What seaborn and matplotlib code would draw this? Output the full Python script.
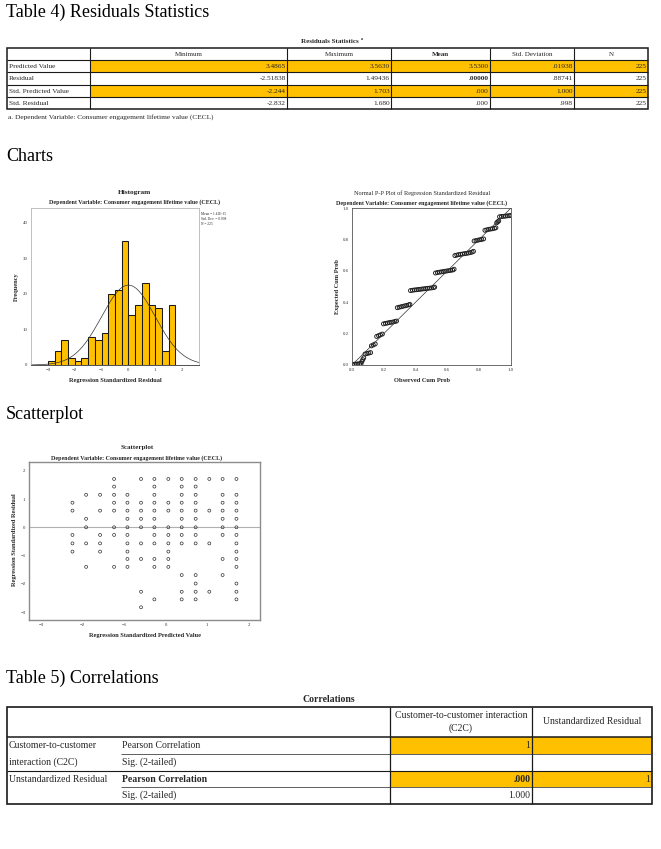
import numpy as np
import pandas as pd
import matplotlib
matplotlib.use("Agg")
import matplotlib.pyplot as plt
import seaborn as sns
from matplotlib.patches import Rectangle

# ---- data ---------------------------------------------------------------
stat_rows = ["Predicted Value", "Residual", "Std. Predicted Value", "Std. Residual"]
stat_cols = ["Minimum", "Maximum", "Mean", "Std. Deviation", "N"]
stat_values = [
    ["3.4865", "3.5630", "3.5300", ".01938", "225"],
    ["-2.51838", "1.49436", ".00000", ".88741", "225"],
    ["-2.244", "1.703", ".000", "1.000", "225"],
    ["-2.832", "1.680", ".000", ".998", "225"],
]
stat_highlight = [0, 2]
footnote = "a. Dependent Variable: Consumer engagement lifetime value (CECL)"
dep_var = "Dependent Variable: Consumer engagement lifetime value (CECL)"

# histogram of standardized residuals (bins of .25 starting at -3)
hist_counts = [1, 4, 7, 2, 1, 2, 8, 7, 9, 20, 21, 35, 14, 17, 23, 17, 16, 4, 17]
hist_start = -3.0
hist_width = 0.25
resid_mean = 0.0
resid_sd = 0.998
resid_n = 225

pp_observed = [0.004, 0.015, 0.026, 0.037, 0.048, 0.057, 0.062, 0.068, 0.074,
               0.082, 0.094, 0.106, 0.117, 0.122, 0.134, 0.146,
               0.155, 0.167, 0.179, 0.191,
               0.198, 0.210, 0.222, 0.234, 0.246, 0.258, 0.270, 0.280,
               0.285, 0.297, 0.309, 0.321, 0.333, 0.345, 0.357, 0.364,
               0.368, 0.380, 0.392, 0.404, 0.416, 0.428, 0.440, 0.452, 0.464,
               0.476, 0.488, 0.500, 0.512, 0.520,
               0.525, 0.537, 0.549, 0.561, 0.573, 0.585, 0.597, 0.609, 0.621,
               0.633, 0.642,
               0.647, 0.659, 0.671, 0.683, 0.695, 0.707, 0.719, 0.731, 0.743,
               0.755, 0.764,
               0.768, 0.780, 0.792, 0.804, 0.816, 0.828,
               0.836, 0.848, 0.860, 0.872, 0.884, 0.896, 0.905,
               0.910, 0.917, 0.923,
               0.928, 0.940, 0.952, 0.964, 0.976, 0.988, 0.998]
pp_expected = [0.004, 0.005, 0.006, 0.007, 0.008, 0.009, 0.022, 0.034, 0.046,
               0.070, 0.073, 0.076, 0.079, 0.122, 0.128, 0.134,
               0.182, 0.187, 0.192, 0.197,
               0.262, 0.265, 0.267, 0.270, 0.272, 0.274, 0.277, 0.280,
               0.365, 0.368, 0.371, 0.374, 0.377, 0.380, 0.383, 0.386,
               0.474, 0.476, 0.478, 0.479, 0.481, 0.482, 0.484, 0.485, 0.487,
               0.488, 0.490, 0.491, 0.493, 0.496,
               0.586, 0.589, 0.591, 0.593, 0.595, 0.597, 0.599, 0.601, 0.603,
               0.605, 0.610,
               0.697, 0.700, 0.703, 0.705, 0.707, 0.709, 0.711, 0.713, 0.716,
               0.719, 0.724,
               0.790, 0.792, 0.795, 0.798, 0.800, 0.803,
               0.858, 0.861, 0.864, 0.866, 0.868, 0.871, 0.874,
               0.906, 0.912, 0.918,
               0.944, 0.946, 0.947, 0.948, 0.950, 0.951, 0.953]

# scatterplot: standardized predicted value columns and their residuals
scatter_pred = [-2.244, -1.915, -1.579, -1.242, -0.921, -0.593, -0.272,
                0.064, 0.385, 0.721, 1.050, 1.370, 1.703]
scatter_resid = [
    [0.87, 0.59, -0.27, -0.57, -0.86],
    [1.15, 0.30, 0.00, -0.57, -1.40],
    [1.15, 0.59, -0.27, -0.57, -0.86],
    [1.71, 1.44, 1.15, 0.87, 0.59, 0.00, -0.27, -1.40],
    [1.15, 0.87, 0.59, 0.30, 0.00, -0.27, -0.57, -0.86, -1.12, -1.40],
    [1.71, 0.87, 0.59, 0.30, 0.00, -0.57, -1.12, -2.28, -2.83],
    [1.71, 1.44, 1.15, 0.87, 0.59, 0.30, 0.00, -0.27, -0.57, -1.12, -1.40, -2.55],
    [1.71, 0.87, 0.59, 0.00, -0.27, -0.57, -0.86, -1.12, -1.40],
    [1.71, 1.44, 1.15, 0.87, 0.59, 0.30, 0.00, -0.27, -0.57, -1.69, -2.28, -2.55],
    [1.71, 1.44, 1.15, 0.87, 0.59, 0.30, 0.00, -0.27, -0.57, -1.69, -1.99, -2.28, -2.55],
    [1.71, 0.59, -0.57, -2.28],
    [1.71, 1.15, 0.87, 0.59, 0.30, 0.00, -0.27, -1.12, -1.69],
    [1.71, 1.15, 0.87, 0.59, 0.30, 0.00, -0.27, -0.57, -0.86, -1.12, -1.40,
     -1.99, -2.28, -2.55],
]

corr_cols = ["Customer-to-customer interaction\n(C2C)", "Unstandardized Residual"]
corr_groups = [["Customer-to-customer", "interaction (C2C)"], ["Unstandardized Residual"]]
corr_stats = ["Pearson Correlation", "Sig. (2-tailed)", "Pearson Correlation", "Sig. (2-tailed)"]
corr_values = [["1", ""], ["", ""], [".000", "1"], ["1.000", ""]]
corr_highlight = [0, 2]

# ---- style --------------------------------------------------------------
W, H = 661, 849
ORANGE = "#FFC000"
INK = "#1a1a1a"
sns.set_style("white")
plt.rcParams["font.family"] = ["Liberation Serif", "DejaVu Serif"]

fig = plt.figure(figsize=(W / 100, H / 100), dpi=100)
page = fig.add_axes([0, 0, 1, 1])
page.set_xlim(0, W)
page.set_ylim(H, 0)
page.axis("off")


def box(x0, y0, x1, y1):
    return [x0 / W, 1 - y1 / H, (x1 - x0) / W, (y1 - y0) / H]


def line(xs, ys, lw=0.7, color=INK):
    page.plot(xs, ys, color=color, lw=lw, solid_capstyle="butt")


def heading(x, y, s):
    page.text(x, y, s, fontsize=13, va="center", ha="left", color="black")


# ---- Table 4 ------------------------------------------------------------
heading(6, 12, "Table 4) Residuals Statistics")
page.text(330, 41, "Residuals Statistics", fontsize=5, fontweight="bold",
          ha="center", va="center")
page.text(361, 38.5, "a", fontsize=3, fontweight="bold", ha="left", va="center")

col_x = [7, 90, 287, 391, 490, 574, 648]
row_y = [48, 60, 72, 85, 97, 109]
for r in stat_highlight:
    page.add_patch(Rectangle((col_x[1], row_y[r + 1]), col_x[-1] - col_x[1],
                             row_y[r + 2] - row_y[r + 1], color=ORANGE, lw=0))
for j, name in enumerate(stat_cols):
    page.text((col_x[j + 1] + col_x[j + 2]) / 2, (row_y[0] + row_y[1]) / 2, name,
              fontsize=5, ha="center", va="center",
              fontweight="bold" if name == "Mean" else "normal")
for i, name in enumerate(stat_rows):
    yc = (row_y[i + 1] + row_y[i + 2]) / 2
    page.text(col_x[0] + 2, yc, name, fontsize=5.3, ha="left", va="center")
    for j, val in enumerate(stat_values[i]):
        page.text(col_x[j + 2] - 1.5, yc, val, fontsize=5.3, ha="right", va="center",
                  fontweight="bold" if val == ".00000" else "normal")
for y in row_y[1:-1]:
    line([col_x[0], col_x[-1]], [y, y], lw=0.8)
for x in col_x[1:-1]:
    line([x, x], [row_y[0], row_y[-1]], lw=0.8)
page.add_patch(Rectangle((col_x[0], row_y[0]), col_x[-1] - col_x[0],
                         row_y[-1] - row_y[0], fill=False, ec=INK, lw=1.1))
page.text(8, 117, footnote, fontsize=5.3, ha="left", va="center")

# ---- Charts: histogram --------------------------------------------------
heading(6, 156, "Charts")
tick_kw = dict(labelsize=3.5, length=1.5, width=0.4, pad=1, colors="#333333")

page.text(135, 192, "Histogram", fontsize=5.3, fontweight="bold", ha="center", va="center")
page.text(135, 202, dep_var, fontsize=4.3, fontweight="bold", ha="center", va="center")
ax1 = fig.add_axes(box(31, 208, 199, 365))
edges = hist_start + hist_width * np.arange(len(hist_counts) + 1)
hist_df = pd.DataFrame({"resid": (edges[:-1] + edges[1:]) / 2, "count": hist_counts})
sns.histplot(data=hist_df, x="resid", weights="count", binwidth=hist_width,
             binrange=(float(edges[0]), float(edges[-1])), color=ORANGE,
             edgecolor="#1a1a1a", linewidth=0.75, alpha=1, ax=ax1)
xs = np.linspace(-3.63, 2.63, 300)
pdf = np.exp(-0.5 * ((xs - resid_mean) / resid_sd) ** 2) / (resid_sd * np.sqrt(2 * np.pi))
ax1.plot(xs, resid_n * hist_width * pdf, color="#333333", lw=0.5)
ax1.set_xlim(-3.63, 2.63)
ax1.set_ylim(0, 44.2)
ax1.set_xticks(range(-3, 3))
ax1.set_yticks(range(0, 41, 10))
ax1.tick_params(**tick_kw)
ax1.set_xlabel("")
ax1.set_ylabel("")
for s in ax1.spines.values():
    s.set_color("#b5b5b5")
    s.set_linewidth(0.6)
ax1.spines["bottom"].set_color("#333333")
page.text(16, 287, "Frequency", fontsize=4.6, fontweight="bold", rotation=90,
          ha="center", va="center")
page.text(115, 380, "Regression Standardized Residual", fontsize=4.6,
          fontweight="bold", ha="center", va="center")
page.text(201, 219, "Mean = 1.41E-15\nStd. Dev. = 0.998\nN = 225", fontsize=2.6,
          ha="left", va="center", linespacing=1.2)

# ---- Charts: normal P-P plot --------------------------------------------
page.text(422, 193, "Normal P-P Plot of Regression Standardized Residual",
          fontsize=4.5, ha="center", va="center")
page.text(422, 203, dep_var, fontsize=4.3, fontweight="bold", ha="center", va="center")
ax2 = fig.add_axes(box(352, 208, 511, 365))
ax2.plot([0, 1], [0, 1], color="#333333", lw=0.5)
sns.scatterplot(x=pp_observed, y=pp_expected, ax=ax2, marker="o", s=8,
                facecolors="none", edgecolor="#1a1a1a", linewidth=0.65)
ax2.set_xlim(0, 1)
ax2.set_ylim(0, 1)
ticks = np.arange(0, 1.01, 0.2)
ax2.set_xticks(ticks)
ax2.set_yticks(ticks)
ax2.set_xticklabels([f"{t:.1f}" for t in ticks])
ax2.set_yticklabels([f"{t:.1f}" for t in ticks])
ax2.tick_params(**tick_kw)
for s in ax2.spines.values():
    s.set_color("#555555")
    s.set_linewidth(0.6)
page.text(337, 287, "Expected Cum Prob", fontsize=4.6, fontweight="bold",
          rotation=90, ha="center", va="center")
page.text(422, 380, "Observed Cum Prob", fontsize=4.6, fontweight="bold",
          ha="center", va="center")

# ---- Scatterplot --------------------------------------------------------
heading(6, 414, "Scatterplot")
page.text(137, 447, "Scatterplot", fontsize=5, fontweight="bold", ha="center", va="center")
page.text(137, 458, dep_var, fontsize=4.3, fontweight="bold", ha="center", va="center")
ax3 = fig.add_axes(box(29, 462, 260, 620))
sc = pd.DataFrame({
    "pred": [p for p, col in zip(scatter_pred, scatter_resid) for _ in col],
    "resid": [r for col in scatter_resid for r in col],
})
ax3.axhline(0, color="#b0b0b0", lw=0.8, zorder=1)
sns.scatterplot(data=sc, x="pred", y="resid", ax=ax3, marker="o", s=4.5,
                facecolors="none", edgecolor="#333333", linewidth=0.5, zorder=2)
ax3.set_xlim(-3.29, 2.27)
ax3.set_ylim(-3.28, 2.31)
ax3.set_xticks(range(-3, 3))
ax3.set_yticks(range(-3, 3))
ax3.tick_params(**tick_kw)
ax3.set_xlabel("")
ax3.set_ylabel("")
for s in ax3.spines.values():
    s.set_color("#8c8c8c")
    s.set_linewidth(1.0)
page.text(15, 540, "Regression Standardized Residual", fontsize=4.6,
          fontweight="bold", rotation=90, ha="center", va="center")
page.text(145, 635, "Regression Standardized Predicted Value", fontsize=4.6,
          fontweight="bold", ha="center", va="center")

# ---- Table 5 ------------------------------------------------------------
heading(6, 678, "Table 5) Correlations")
page.text(329, 700, "Correlations", fontsize=7, fontweight="bold", ha="center", va="center")
cx = [7, 121, 390, 532, 652]
cy = [707, 737, 754, 771, 787, 804]
for r in corr_highlight:
    page.add_patch(Rectangle((cx[2], cy[r + 1]), cx[-1] - cx[2],
                             cy[r + 2] - cy[r + 1], color=ORANGE, lw=0))
for j, name in enumerate(corr_cols):
    page.text((cx[j + 2] + cx[j + 3]) / 2, (cy[0] + cy[1]) / 2, name, fontsize=7,
              ha="center", va="center", linespacing=1.4)
for g, lines in enumerate(corr_groups):
    for k, txt in enumerate(lines):
        page.text(cx[0] + 2, (cy[2 * g + k + 1] + cy[2 * g + k + 2]) / 2, txt,
                  fontsize=7, ha="left", va="center")
for i, stat in enumerate(corr_stats):
    yc = (cy[i + 1] + cy[i + 2]) / 2
    bold = "bold" if i == 2 else "normal"
    page.text(cx[1] + 1, yc, stat, fontsize=7, ha="left", va="center", fontweight=bold)
    for j, val in enumerate(corr_values[i]):
        page.text(cx[j + 3] - 1.5, yc, val, fontsize=7, ha="right", va="center",
                  fontweight="bold" if val == ".000" else "normal")
line([cx[0], cx[-1]], [cy[1], cy[1]], lw=1.1)
line([cx[0], cx[-1]], [cy[3], cy[3]], lw=0.8)
line([cx[1], cx[-1]], [cy[2], cy[2]], lw=0.6, color="#444444")
line([cx[1], cx[-1]], [cy[4], cy[4]], lw=0.6, color="#444444")
for x in cx[2:-1]:
    line([x, x], [cy[0], cy[-1]], lw=0.9)
page.add_patch(Rectangle((cx[0], cy[0]), cx[-1] - cx[0], cy[-1] - cy[0],
                         fill=False, ec=INK, lw=1.2))

fig.savefig("out.png", dpi=100, facecolor="white")
